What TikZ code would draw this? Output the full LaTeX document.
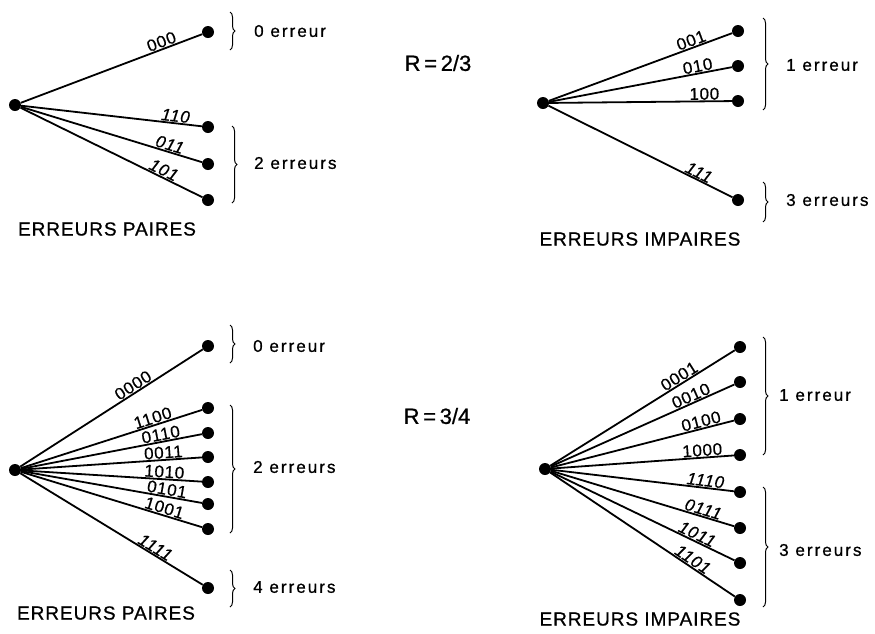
\documentclass[tikz,border=0pt]{standalone}
\usepackage{fontspec}
\setmainfont[FakeBold=0.8]{Liberation Sans}
\newfontfamily\labfont[LetterSpace=12,FakeBold=0.8]{Liberation Sans}
\newfontfamily\edgefont[LetterSpace=4,FakeBold=0.6]{Liberation Sans}
\newfontfamily\titlefont[LetterSpace=5,FakeBold=0.8]{Liberation Sans}
\usetikzlibrary{decorations.pathreplacing}

\tikzset{
  dot/.style={circle, fill=black, inner sep=0pt, minimum size=12pt},
  branch/.style={line width=1.8pt},
  code/.style={sloped, anchor=south, inner sep=0.6pt,
               font=\edgefont\fontsize{17}{19}\selectfont},
  icode/.style={code, font=\edgefont\itshape\fontsize{17}{19}\selectfont},
  grp/.style={decorate, decoration={brace, amplitude=5pt}, line width=1pt},
  count/.style={anchor=west, inner sep=0pt, font=\labfont\fontsize{17}{20}\selectfont},
  title/.style={inner sep=0pt, font=\titlefont\fontsize{19}{22}\selectfont},
  rate/.style={inner sep=0pt, font=\fontsize{22}{26}\selectfont}
}

\begin{document}
\begin{tikzpicture}[x=1pt, y=-1pt]
\useasboundingbox (0,0) rectangle (875,633);

% ---------- R = 2/3, even errors ----------
\node[dot] (ra) at (15,105) {};
\node[dot] (a1) at (208,32) {};
\node[dot] (a2) at (208,127) {};
\node[dot] (a3) at (208,164) {};
\node[dot] (a4) at (208,200) {};
\draw[branch] (ra) -- node[code, pos=0.79] {000} (a1);
\draw[branch] (ra) -- node[icode, pos=0.85] {110} (a2);
\draw[branch] (ra) -- node[icode, pos=0.81] {011} (a3);
\draw[branch] (ra) -- node[icode, pos=0.77] {101} (a4);
\coordinate (ab1t) at (230,12);  \coordinate (ab1b) at (230,50);
\coordinate (ab2t) at (232,126); \coordinate (ab2b) at (232,203);
\draw[grp] (ab1t) -- (ab1b);
\draw[grp] (ab2t) -- (ab2b);
\node[count] (ac1) at (254,31) {0 erreur};
\node[count] (ac2) at (254,163) {2 erreurs};
\node[title] (at) at (107,229) {ERREURS PAIRES};

% ---------- R = 2/3, odd errors ----------
\node[dot] (rb) at (543,103) {};
\node[dot] (b1) at (738,31) {};
\node[dot] (b2) at (738,66) {};
\node[dot] (b3) at (738,101) {};
\node[dot] (b4) at (738,200) {};
\draw[branch] (rb) -- node[code, pos=0.79] {001} (b1);
\draw[branch] (rb) -- node[code, pos=0.82] {010} (b2);
\draw[branch] (rb) -- node[code, pos=0.85] {100} (b3);
\draw[branch] (rb) -- node[icode, pos=0.80] {111} (b4);
\coordinate (bb1t) at (763,18);  \coordinate (bb1b) at (763,110);
\coordinate (bb2t) at (763,182); \coordinate (bb2b) at (763,222);
\draw[grp] (bb1t) -- (bb1b);
\draw[grp] (bb2t) -- (bb2b);
\node[count] (bc1) at (786,65) {1 erreur};
\node[count] (bc2) at (786,200) {3 erreurs};
\node[title] (bt) at (640,239) {ERREURS IMPAIRES};

\node[rate] (r23) at (438,63) {R\,=\,2/3};

% ---------- R = 3/4, even errors ----------
\node[dot] (rc) at (15,470) {};
\node[dot] (c1) at (208,346) {};
\node[dot] (c2) at (208,408) {};
\node[dot] (c3) at (208,433) {};
\node[dot] (c4) at (208,457) {};
\node[dot] (c5) at (208,482) {};
\node[dot] (c6) at (208,504) {};
\node[dot] (c7) at (208,529) {};
\node[dot] (c8) at (208,588) {};
\draw[branch] (rc) -- node[code, pos=0.64] {0000} (c1);
\draw[branch] (rc) -- node[code, pos=0.74] {1100} (c2);
\draw[branch] (rc) -- node[code, pos=0.78] {0110} (c3);
\draw[branch] (rc) -- node[code, pos=0.79] {0011} (c4);
\draw[branch] (rc) -- node[code, pos=0.79] {1010} (c5);
\draw[branch] (rc) -- node[code, pos=0.80] {0101} (c6);
\draw[branch] (rc) -- node[code, pos=0.78] {1001} (c7);
\draw[branch] (rc) -- node[icode, pos=0.72] {1111} (c8);
\coordinate (cb1t) at (230,325); \coordinate (cb1b) at (230,363);
\coordinate (cb2t) at (230,405); \coordinate (cb2b) at (230,533);
\coordinate (cb3t) at (230,570); \coordinate (cb3b) at (230,607);
\draw[grp] (cb1t) -- (cb1b);
\draw[grp] (cb2t) -- (cb2b);
\draw[grp] (cb3t) -- (cb3b);
\node[count] (cc1) at (253,346) {0 erreur};
\node[count] (cc2) at (253,467) {2 erreurs};
\node[count] (cc3) at (253,587) {4 erreurs};
\node[title] (ct) at (106,613) {ERREURS PAIRES};

% ---------- R = 3/4, odd errors ----------
\node[dot] (rd) at (545,469) {};
\node[dot] (d1) at (740,347) {};
\node[dot] (d2) at (740,382) {};
\node[dot] (d3) at (740,419) {};
\node[dot] (d4) at (740,455) {};
\node[dot] (d5) at (740,492) {};
\node[dot] (d6) at (740,528) {};
\node[dot] (d7) at (740,563) {};
\node[dot] (d8) at (740,600) {};
\draw[branch] (rd) -- node[code, pos=0.72] {0001} (d1);
\draw[branch] (rd) -- node[code, pos=0.78] {0010} (d2);
\draw[branch] (rd) -- node[code, pos=0.83] {0100} (d3);
\draw[branch] (rd) -- node[code, pos=0.83] {1000} (d4);
\draw[branch] (rd) -- node[icode, pos=0.84] {1110} (d5);
\draw[branch] (rd) -- node[icode, pos=0.82] {0111} (d6);
\draw[branch] (rd) -- node[icode, pos=0.78] {1011} (d7);
\draw[branch] (rd) -- node[icode, pos=0.75] {1101} (d8);
\coordinate (db1t) at (763,337); \coordinate (db1b) at (763,455);
\coordinate (db2t) at (763,487); \coordinate (db2b) at (763,607);
\draw[grp] (db1t) -- (db1b);
\draw[grp] (db2t) -- (db2b);
\node[count] (dc1) at (779,395) {1 erreur};
\node[count] (dc2) at (779,550) {3 erreurs};
\node[title] (dt) at (640,619) {ERREURS IMPAIRES};

\node[rate] (r34) at (437,416) {R\,=\,3/4};
\end{tikzpicture}
\end{document}
